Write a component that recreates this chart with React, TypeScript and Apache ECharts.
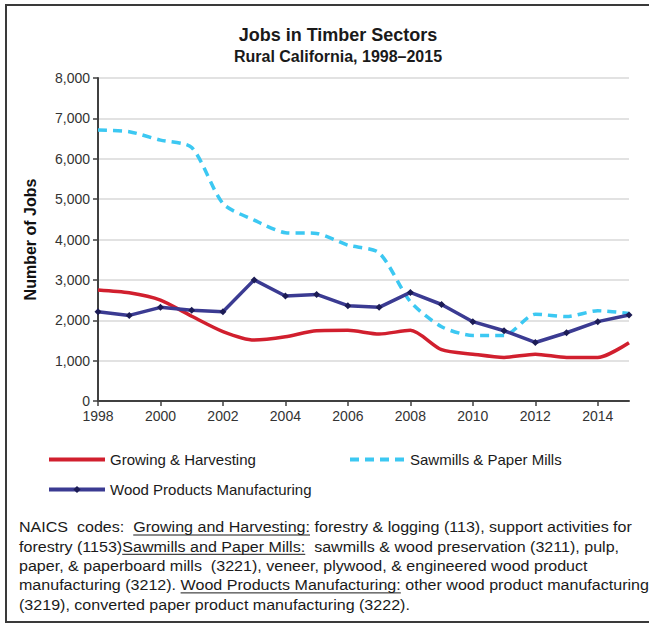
import React, { useEffect, useRef } from "react";
import * as echarts from "echarts";

const YEARS = ["1998","1999","2000","2001","2002","2003","2004","2005","2006","2007","2008","2009","2010","2011","2012","2013","2014","2015"];
const GROWING = [2750, 2680, 2500, 2100, 1720, 1510, 1590, 1740, 1750, 1660, 1750, 1270, 1160, 1080, 1160, 1080, 1080, 1445];
const SAWMILLS = [6710, 6670, 6460, 6280, 4890, 4480, 4170, 4150, 3860, 3670, 2460, 1840, 1625, 1625, 2150, 2090, 2235, 2170];
const WOOD = [2210, 2120, 2320, 2250, 2210, 3000, 2600, 2640, 2360, 2320, 2690, 2390, 1965, 1740, 1450, 1690, 1965, 2130];

const TITLE = "Jobs in Timber Sectors";
const SUBTITLE = "Rural California, 1998\u20132015";
const Y_NAME = "Number of Jobs";
const S_GROW = "Growing & Harvesting";
const S_SAW = "Sawmills & Paper Mills";
const S_WOOD = "Wood Products Manufacturing";

const FOOTNOTE: Array<Array<[string, boolean]>> = [
  [["NAICS  codes:  ", false], ["Growing and Harvesting:", true], [" forestry & logging (113), support activities for", false]],
  [["forestry (1153)", false], ["Sawmills and Paper Mills:", true], ["  sawmills & wood preservation (3211), pulp,", false]],
  [["paper, & paperboard mills  (3221), veneer, plywood, & engineered wood product", false]],
  [["manufacturing (3212). ", false], ["Wood Products Manufacturing:", true], [" other wood product manufacturing", false]],
  [["(3219), converted paper product manufacturing (3222).", false]],
];

const FONT = '"Liberation Sans", Arial, sans-serif';

export default function App() {
  const ref = useRef<HTMLDivElement>(null);
  useEffect(() => {
    if (!ref.current) return;
    const chart = echarts.init(ref.current, null, { renderer: "svg" });

    const canvas = document.createElement("canvas");
    const ctx = canvas.getContext("2d")!;
    const fs = 15;
    ctx.font = `${fs}px ${FONT}`;
    const meas = (t: string) => ctx.measureText(t).width;
    const l1 = FOOTNOTE[0].map((s) => s[0]).join("");
    const sx = 613 / meas(l1);

    const foot: any[] = [];
    FOOTNOTE.forEach((line, i) => {
      let x = 19;
      const y = 527 + i * 19.3;
      line.forEach(([t, u]) => {
        const w = meas(t) * sx;
        foot.push({
          type: "text",
          x,
          y,
          scaleX: sx,
          style: { text: t, font: `${fs}px ${FONT}`, fill: "#1a1a1a", textVerticalAlign: "middle", verticalAlign: "middle" },
        });
        if (u) {
          foot.push({
            type: "line",
            shape: { x1: x, y1: y + 8, x2: x + w, y2: y + 8 },
            style: { stroke: "#1a1a1a", lineWidth: 1 },
          });
        }
        x += w;
      });
    });

    const legendText = { fontSize: 15, color: "#1a1a1a", fontFamily: FONT };

    chart.setOption({
      animation: false,
      backgroundColor: "#ffffff",
      title: [
        { text: TITLE, left: 333, top: 21, textAlign: "center", textStyle: { fontSize: 18, fontWeight: "bold", color: "#1a1a1a", fontFamily: FONT } },
        { text: SUBTITLE, left: 333, top: 43, textAlign: "center", textStyle: { fontSize: 16, fontWeight: "bold", color: "#1a1a1a", fontFamily: FONT } },
      ],
      grid: { left: 98, right: 20, top: 78, bottom: 225, containLabel: false },
      legend: [
        { data: [S_GROW], left: 42, top: 447, itemWidth: 56, itemHeight: 14, itemGap: 4, itemStyle: { opacity: 0 }, lineStyle: { width: 4 }, textStyle: legendText },
        { data: [S_SAW], left: 343, top: 447, itemWidth: 55, itemHeight: 14, itemStyle: { opacity: 0 }, lineStyle: { width: 4 }, textStyle: legendText },
        { data: [S_WOOD], left: 42, top: 477, itemWidth: 56, itemHeight: 9, lineStyle: { width: 4 }, textStyle: legendText },
      ],
      xAxis: {
        type: "category",
        data: YEARS,
        boundaryGap: false,
        axisLine: { lineStyle: { color: "#404040", width: 2 } },
        axisTick: { show: true, interval: 1, length: 5, lineStyle: { color: "#404040", width: 1.5 } },
        axisLabel: { interval: 1, fontSize: 14, color: "#333", fontFamily: FONT, margin: 8 },
        splitLine: { show: false },
      },
      yAxis: {
        type: "value",
        min: 0,
        max: 8000,
        interval: 1000,
        name: Y_NAME,
        nameLocation: "middle",
        nameGap: 60,
        nameRotate: 90,
        nameTextStyle: { fontSize: 16, fontWeight: "bold", color: "#111", fontFamily: FONT },
        axisLine: { show: true, lineStyle: { color: "#404040", width: 2 } },
        axisTick: { show: true, length: 5, lineStyle: { color: "#404040", width: 1.5 } },
        axisLabel: { fontSize: 14, color: "#333", fontFamily: FONT, margin: 8, formatter: (v: number) => v.toLocaleString("en-US") },
        splitLine: { show: true, lineStyle: { color: "#d9d9d9", width: 1.5 } },
      },
      series: [
        {
          name: S_GROW,
          type: "line",
          data: GROWING,
          smooth: 0.25,
          symbol: "none",
          lineStyle: { color: "#d11f2e", width: 3.5 },
          itemStyle: { color: "#d11f2e" },
          z: 2,
        },
        {
          name: S_SAW,
          type: "line",
          data: SAWMILLS,
          smooth: 0.25,
          symbol: "none",
          lineStyle: { color: "#3cc8f2", width: 3.5, type: [9, 6] },
          itemStyle: { color: "#3cc8f2" },
          z: 3,
        },
        {
          name: S_WOOD,
          type: "line",
          data: WOOD,
          symbol: "diamond",
          symbolSize: 7,
          lineStyle: { color: "#3b3b92", width: 3.5 },
          itemStyle: { color: "#1c1c55" },
          z: 4,
        },
      ],
      graphic: [
        {
          type: "rect",
          shape: { x: 6, y: 5, width: 700, height: 617 },
          style: { fill: "none", stroke: "#3a3a3a", lineWidth: 2 },
          silent: true,
        },
        ...foot,
      ],
    });
    return () => chart.dispose();
  }, []);
  return <div ref={ref} style={{ position: "fixed", left: 0, top: 0, width: 649, height: 626 }} />;
}
